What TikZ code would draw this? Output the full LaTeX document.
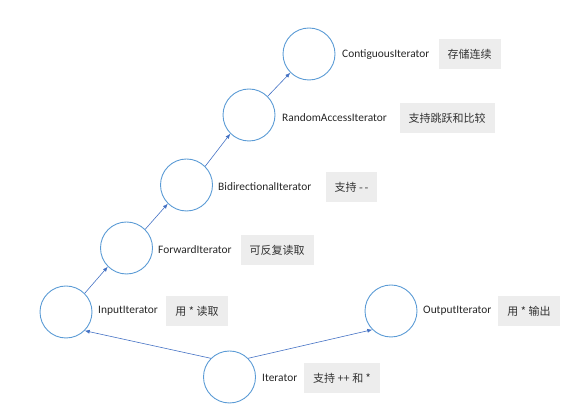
\documentclass[tikz,border=0pt]{standalone}
\usepackage{fontspec}
\setmainfont{Carlito}
\newfontfamily\cjk{Noto Sans CJK SC}
\usetikzlibrary{arrows.meta}
\definecolor{ringblue}{HTML}{5B9BD5}
\definecolor{lineblue}{HTML}{4472C4}
\definecolor{boxgray}{HTML}{EDEDED}
\begin{document}
\begin{tikzpicture}[x=1pt, y=1pt,
    iter/.style={circle, draw=ringblue, line width=0.9pt, minimum size=52pt, inner sep=0pt},
    itlabel/.style={anchor=west, inner sep=0pt, font=\fontsize{11.4}{13}\selectfont, text=black!85},
    note/.style={fill=boxgray, minimum height=30pt, inner xsep=9pt, font=\cjk\fontsize{11}{13}\selectfont, text=black!80},
    up/.style={draw=lineblue, line width=0.6pt, -{Latex[length=5pt, width=4pt]}}]
    \useasboundingbox (0, 0) rectangle (583, 419);

        \node[iter] at (309, 365)(cont){};
        \node[iter] at (249, 304)(rand){};
        \node[iter] at (186.5, 234)(bidi){};
        \node[iter] at (126.5, 171)(forw){};
        \node[iter] at (66, 107)(inp){};
        \node[iter] at (229.5, 42)(it){};
        \node[iter] at (391, 108)(outp){};

        \node[itlabel] at (342, 364.5)(contname){ContiguousIterator};
        \node[itlabel] at (282, 301)(randname){RandomAccessIterator};
        \node[itlabel] at (218, 232)(bidiname){BidirectionalIterator};
        \node[itlabel] at (158, 169)(forwname){ForwardIterator};
        \node[itlabel] at (98, 108)(inpname){InputIterator};
        \node[itlabel] at (262, 41)(itname){Iterator};
        \node[itlabel] at (423, 108)(outpname){OutputIterator};

        \node[note] at (469.5, 364.5)(contnote){存储连续};
        \node[note] at (447, 301)(randnote){支持跳跃和比较};
        \node[note] at (351.5, 232)(bidinote){支持 -\,-};
        \node[note] at (277, 169)(forwnote){可反复读取};
        \node[note] at (197, 108)(inpnote){用 * 读取};
        \node[note] at (342, 41)(itnote){支持 ++ 和 *};
        \node[note] at (529, 108)(outpnote){用 * 输出};

        \draw[up] (it.135) to (inp.-45);
        \draw[up] (it.45) to (outp.225);
            \draw[up] (inp.45) to (forw.225);
            \draw[up] (forw.45) to (bidi.225);
            \draw[up] (bidi.45) to (rand.225);
            \draw[up] (rand.45) to (cont.225);
    \end{tikzpicture}
\end{document}
